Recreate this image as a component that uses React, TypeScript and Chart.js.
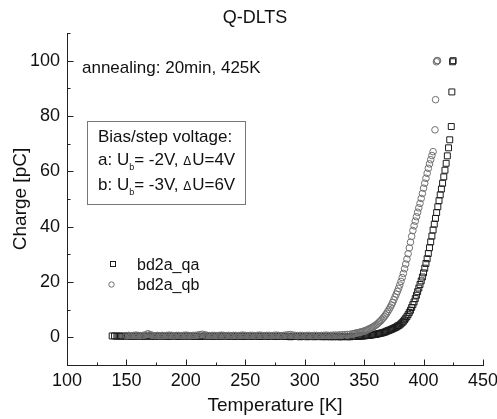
import React, { useEffect, useRef } from 'react';
import { Chart, registerables } from 'chart.js';

Chart.register(...registerables);

const FONT = "'Liberation Sans', Arial, sans-serif";

const chartTitle = 'Q-DLTS';
const xAxisTitle = 'Temperature [K]';
const yAxisTitle = 'Charge [pC]';
const seriesNames = ['bd2a_qa', 'bd2a_qb'];
const annealingNote = 'annealing: 20min, 425K';
const biasHeader = 'Bias/step voltage:';
const biasLines = [
  { prefix: 'a: U', sub: 'b', mid: '= -2V, ', delta: '\u0394', rest: 'U=4V' },
  { prefix: 'b: U', sub: 'b', mid: '= -3V, ', delta: '\u0394', rest: 'U=6V' },
];

const xMajorTicks = [100, 150, 200, 250, 300, 350, 400, 450];
const xMinorTicks = [125, 175, 225, 275, 325, 375, 425];
const yMajorTicks = [0, 20, 40, 60, 80, 100];
const yMinorTicks = [10, 30, 50, 70, 90, 110];

// series bd2a_qa (squares)
const tempA = [
  138, 140, 142, 144, 146, 148, 150, 152, 154, 156, 158, 160, 162, 164, 166, 168, 170, 172, 174, 176,
  178, 180, 182, 184, 186, 188, 190, 192, 194, 196, 198, 200, 202, 204, 206, 208, 210, 212, 214, 216,
  218, 220, 222, 224, 226, 228, 230, 232, 234, 236, 238, 240, 242, 244, 246, 248, 250, 252, 254, 256,
  258, 260, 262, 264, 266, 268, 270, 272, 274, 276, 278, 280, 282, 284, 286, 288, 290, 292, 294, 296,
  298, 300, 302, 304, 306, 308, 310, 312, 314, 316, 318, 320, 322, 324, 326, 328, 330, 332, 334, 336,
  338, 340,
  341, 342, 343, 344, 345, 346, 347, 348, 349, 350,
  351, 352, 353, 354, 355, 356, 357, 358, 359, 360,
  361, 362, 363, 364, 365, 366, 367, 368, 369, 370,
  371, 372, 373, 374, 375, 376, 377, 378, 379, 380,
  381, 382, 383, 384, 385, 386, 387, 388, 389, 390,
  391, 392, 393, 394, 395, 396, 397, 398, 399, 400,
  401, 402, 403, 404, 405, 406, 407, 408, 409, 410,
  411, 412, 413, 414, 415, 416, 417, 418, 419, 420,
  421, 422,
  423.3, 423.8, 424.4, 424.9,
];
const chargeA = [
  0.5, 0.5, 0.4, 0.5, 0.4, 0.4, 0.5, 0.4, 0.3, 0.4, 0.4, 0.5, 0.4, 0.3, 0.4, 0.5, 0.4, 0.4, 0.3, 0.4,
  0.5, 0.4, 0.4, 0.3, 0.4, 0.4, 0.5, 0.4, 0.3, 0.4, 0.4, 0.5, 0.4, 0.4, 0.3, 0.4, 0.4, 0.3, 0.4, 0.5,
  0.4, 0.3, 0.4, 0.4, 0.3, 0.4, 0.4, 0.5, 0.4, 0.3, 0.4, 0.4, 0.3, 0.3, 0.4, 0.4, 0.3, 0.4, 0.4, 0.3,
  0.3, 0.4, 0.3, 0.3, 0.4, 0.3, 0.3, 0.4, 0.3, 0.3, 0.3, 0.4, 0.3, 0.3, 0.3, 0.2, 0.3, 0.3, 0.3, 0.2,
  0.3, 0.3, 0.2, 0.3, 0.3, 0.2, 0.3, 0.3, 0.2, 0.3, 0.2, 0.3, 0.2, 0.2, 0.3, 0.2, 0.2, 0.2, 0.3, 0.2,
  0.2, 0.3,
  0.3, 0.3, 0.3, 0.35, 0.4, 0.4, 0.45, 0.5, 0.5, 0.55,
  0.6, 0.65, 0.7, 0.75, 0.8, 0.85, 0.9, 1.0, 1.05, 1.1,
  1.2, 1.3, 1.4, 1.5, 1.6, 1.7, 1.85, 2.0, 2.2, 2.4,
  2.55, 2.7, 2.9, 3.1, 3.3, 3.5, 3.7, 4.0, 4.25, 4.5,
  4.9, 5.3, 5.8, 6.3, 6.9, 7.5, 8.2, 9.0, 9.8, 10.8,
  11.8, 12.8, 14.0, 15.2, 16.5, 17.8, 19.1, 20.4, 21.8, 23.3,
  25.0, 26.7, 28.4, 30.3, 32.4, 34.5, 36.6, 38.8, 40.9, 43.0,
  45.1, 47.2, 49.4, 51.5, 53.6, 55.7, 58.0, 60.4, 62.9, 65.6,
  68.5, 71.4,
  76.2, 88.7, 99.6, 100,
];

// series bd2a_qb (circles)
const tempB = [
  150, 152, 154, 156, 158, 160, 162, 164, 166, 168, 170, 172, 174, 176, 178,
  180, 182, 184, 186, 188, 190, 192, 194, 196, 198, 200, 202, 204, 206, 208,
  210, 212, 214, 216, 218, 220, 222, 224, 226, 228, 230, 232, 234, 236, 238,
  240, 242, 244, 246, 248, 250, 252, 254, 256, 258, 260, 262, 264, 266, 268,
  270, 272, 274, 276, 278, 280, 282, 284, 286, 288, 290, 292, 294, 296, 298,
  300, 302, 304, 306, 308, 310, 312, 314, 316, 318, 320, 322, 324, 326, 328,
  330, 332, 334, 336, 338, 340,
  341, 342, 343, 344, 345, 346, 347, 348, 349, 350,
  351, 352, 353, 354, 355, 356, 357, 358, 359, 360,
  361, 362, 363, 364, 365, 366, 367, 368, 369, 370,
  371, 372, 373, 374, 375, 376, 377, 378, 379, 380,
  381, 382, 383, 384, 385, 386, 387, 388, 389, 390,
  391, 392, 393, 394, 395, 396, 397, 398, 399, 400,
  401, 402, 403, 404, 405, 406, 407, 408,
  409.6, 410.1, 410.8, 411.3, 411.8,
];
const chargeB = [
  0.6, 0.7, 0.6, 0.7, 0.8, 0.7, 0.6, 0.7, 0.9, 1.3, 1.0, 0.7, 0.6, 0.7, 0.6,
  0.7, 0.6, 0.7, 0.8, 0.7, 0.6, 0.7, 0.7, 0.6, 0.7, 0.8, 0.7, 0.6, 0.7, 0.7,
  0.8, 1.0, 1.1, 0.9, 0.7, 0.6, 0.7, 0.7, 0.6, 0.7, 0.8, 0.7, 0.6, 0.7, 0.6,
  0.7, 0.7, 0.6, 0.7, 0.8, 0.7, 0.6, 0.7, 0.7, 0.6, 0.7, 0.8, 0.7, 0.6, 0.7,
  0.7, 0.6, 0.7, 0.8, 0.7, 0.6, 0.7, 0.8, 0.9, 1.0, 0.8, 0.7, 0.6, 0.7, 0.7,
  0.6, 0.7, 0.7, 0.6, 0.7, 0.7, 0.6, 0.7, 0.7, 0.8, 0.7, 0.7, 0.8, 0.8, 0.8,
  0.9, 0.9, 1.0, 1.0, 1.1, 1.2,
  1.3, 1.4, 1.5, 1.6, 1.7, 1.8, 1.9, 2.0, 2.1, 2.3,
  2.4, 2.6, 2.8, 3.0, 3.2, 3.4, 3.6, 3.9, 4.2, 4.5,
  4.8, 5.2, 5.6, 6.0, 6.5, 7.0, 7.5, 8.1, 8.7, 9.4,
  10.1, 10.9, 11.7, 12.6, 13.6, 14.6, 15.6, 16.6, 17.7, 18.9,
  20.2, 21.6, 23.1, 24.8, 26.5, 28.3, 30.2, 32.3, 34.4, 36.5,
  38.6, 40.3, 42.0, 43.6, 45.2, 46.8, 48.4, 50.2, 52.0, 53.9,
  55.7, 57.5, 59.3, 61.1, 62.7, 64.2, 65.7, 67.1,
  75.0, 85.9, 99.6, 100, 100,
];

const SQUARE_COLOR = '#1c1c1c';
const CIRCLE_COLOR = '#707070';

const decorPlugin = {
  id: 'decor',
  afterDraw(chart: any) {
    const ctx: CanvasRenderingContext2D = chart.ctx;
    const xs = chart.scales.x;
    const ys = chart.scales.y;
    const area = chart.chartArea;
    ctx.save();

    // inward tick marks
    ctx.strokeStyle = '#222';
    ctx.lineWidth = 1;
    ctx.beginPath();
    const bottom = Math.round(area.bottom) + 0.5;
    const left = Math.round(area.left) + 0.5;
    xMajorTicks.forEach((v) => {
      const p = Math.round(xs.getPixelForValue(v)) + 0.5;
      ctx.moveTo(p, bottom);
      ctx.lineTo(p, bottom - 6);
    });
    xMinorTicks.forEach((v) => {
      const p = Math.round(xs.getPixelForValue(v)) + 0.5;
      ctx.moveTo(p, bottom);
      ctx.lineTo(p, bottom - 3);
    });
    yMajorTicks.forEach((v) => {
      const p = Math.round(ys.getPixelForValue(v)) + 0.5;
      ctx.moveTo(left, p);
      ctx.lineTo(left + 6, p);
    });
    yMinorTicks.forEach((v) => {
      const p = Math.round(ys.getPixelForValue(v)) + 0.5;
      ctx.moveTo(left, p);
      ctx.lineTo(left + 3, p);
    });
    ctx.stroke();

    // title
    ctx.fillStyle = '#111';
    ctx.textBaseline = 'alphabetic';
    ctx.textAlign = 'center';
    ctx.font = `18px ${FONT}`;
    ctx.fillText(chartTitle, 255, 23);

    // annealing note
    ctx.textAlign = 'left';
    ctx.font = `17px ${FONT}`;
    ctx.fillText(annealingNote, 82, 73);

    // bias box
    ctx.strokeStyle = '#777';
    ctx.strokeRect(87.5, 121.5, 158, 83);
    ctx.fillText(biasHeader, 98, 142);
    const baselines = [165, 190];
    biasLines.forEach((ln, i) => {
      let x = 98;
      const y = baselines[i];
      ctx.font = `17px ${FONT}`;
      ctx.fillText(ln.prefix, x, y);
      x += ctx.measureText(ln.prefix).width;
      ctx.font = `9px ${FONT}`;
      ctx.fillText(ln.sub, x, y + 5);
      x += ctx.measureText(ln.sub).width;
      ctx.font = `17px ${FONT}`;
      ctx.fillText(ln.mid, x, y);
      x += ctx.measureText(ln.mid).width;
      ctx.font = `12px ${FONT}`;
      ctx.fillText(ln.delta, x, y);
      x += ctx.measureText(ln.delta).width + 1;
      ctx.font = `17px ${FONT}`;
      ctx.fillText(ln.rest, x, y);
    });

    // legend
    ctx.lineWidth = 1;
    ctx.strokeStyle = SQUARE_COLOR;
    ctx.strokeRect(110.5, 261.5, 5, 5);
    ctx.strokeStyle = CIRCLE_COLOR;
    ctx.beginPath();
    ctx.arc(111.5, 284.5, 2.7, 0, Math.PI * 2);
    ctx.stroke();
    ctx.font = `16px ${FONT}`;
    ctx.fillStyle = '#111';
    ctx.fillText(seriesNames[0], 137, 270);
    ctx.fillText(seriesNames[1], 137, 289.5);

    ctx.restore();
  },
};

export default function App() {
  const ref = useRef<HTMLCanvasElement>(null);

  useEffect(() => {
    const canvas = ref.current;
    if (!canvas) return;
    const chart = new Chart(canvas, {
      type: 'scatter',
      data: {
        datasets: [
          {
            label: seriesNames[0],
            data: tempA.map((t, i) => ({ x: t, y: chargeA[i] })),
            pointStyle: 'rect',
            pointRadius: 4.2,
            pointBorderWidth: 1,
            borderColor: SQUARE_COLOR,
            backgroundColor: 'rgba(0,0,0,0)',
            showLine: false,
            order: 1,
          },
          {
            label: seriesNames[1],
            data: tempB.map((t, i) => ({ x: t, y: chargeB[i] })),
            pointStyle: 'circle',
            pointRadius: 3.3,
            pointBorderWidth: 1,
            borderColor: CIRCLE_COLOR,
            backgroundColor: 'rgba(0,0,0,0)',
            showLine: false,
            order: 0,
          },
        ],
      },
      options: {
        responsive: false,
        animation: false,
        devicePixelRatio: 1,
        layout: { padding: { top: 33, right: 14, left: 0, bottom: 0 } },
        plugins: {
          legend: { display: false },
          title: { display: false },
          tooltip: { enabled: false },
        },
        scales: {
          x: {
            type: 'linear',
            min: 100,
            max: 450,
            ticks: {
              stepSize: 50,
              font: { family: FONT, size: 18 },
              color: '#111',
              padding: 5,
              maxRotation: 0,
              autoSkip: false,
            },
            grid: { drawOnChartArea: false, drawTicks: false, color: 'rgba(0,0,0,0)' },
            border: { display: true, color: '#222', width: 1 },
            title: {
              display: true,
              text: xAxisTitle,
              font: { family: FONT, size: 19 },
              color: '#111',
              padding: { top: 0, bottom: 2 },
            },
            afterFit: (s: any) => {
              s.height = 54;
              s.paddingLeft = 0;
              s.paddingRight = 0;
            },
          },
          y: {
            type: 'linear',
            min: -10,
            max: 110,
            afterBuildTicks: (s: any) => {
              s.ticks = yMajorTicks.map((v) => ({ value: v }));
            },
            ticks: {
              font: { family: FONT, size: 18 },
              color: '#111',
              padding: 7,
            },
            grid: { drawOnChartArea: false, drawTicks: false, color: 'rgba(0,0,0,0)' },
            border: { display: true, color: '#222', width: 1 },
            title: {
              display: true,
              text: yAxisTitle,
              font: { family: FONT, size: 19 },
              color: '#111',
              padding: { top: 9, bottom: 0 },
            },
            afterFit: (s: any) => {
              s.width = 67;
              s.paddingTop = 0;
              s.paddingBottom = 0;
            },
          },
        },
      },
      plugins: [decorPlugin],
    });
    return () => chart.destroy();
  }, []);

  return (
    <div style={{ position: 'fixed', left: 0, top: 0, width: 497, height: 419, background: '#fff' }}>
      <canvas ref={ref} width={497} height={419} style={{ display: 'block', width: 497, height: 419 }} />
    </div>
  );
}
